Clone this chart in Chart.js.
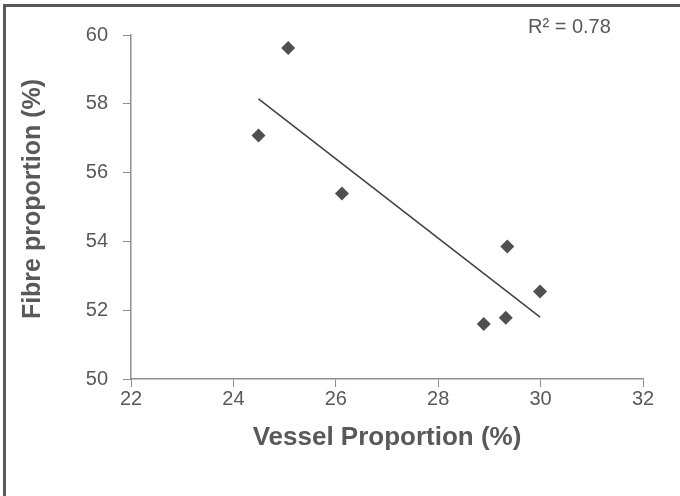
<!DOCTYPE html>
<html>
<head>
<meta charset="utf-8">
<script src="https://cdn.jsdelivr.net/npm/chart.js@4/dist/chart.umd.min.js"></script>
<style>
  html, body { margin: 0; padding: 0; background: #ffffff; }
  #wrap { position: relative; width: 680px; height: 496px; }
</style>
</head>
<body>
<div id="wrap"><canvas id="chart"></canvas></div>
<script>
// Vessel vs fibre proportion of each sample (%)
const vesselPct = [25.07, 24.49, 26.12, 29.35, 29.99, 28.89, 29.32];
const fibrePct  = [59.62, 57.08, 55.39, 53.85, 52.54, 51.60, 51.78];

// Axis ranges and tick steps
const xRange = [22, 32];
const yRange = [50, 60];
const xStep = 2;
const yStep = 2;

const xTitle = 'Vessel Proportion (%)';
const yTitle = 'Fibre proportion (%)';

// Least-squares linear trend through the samples
function linearFit(xs, ys) {
  const n = xs.length;
  const mx = xs.reduce((a, b) => a + b, 0) / n;
  const my = ys.reduce((a, b) => a + b, 0) / n;
  let sxy = 0, sxx = 0, syy = 0;
  for (let i = 0; i < n; i++) {
    sxy += (xs[i] - mx) * (ys[i] - my);
    sxx += (xs[i] - mx) ** 2;
    syy += (ys[i] - my) ** 2;
  }
  const slope = sxy / sxx;
  return { slope, intercept: my - slope * mx, r2: (sxy * sxy) / (sxx * syy) };
}

const fit = linearFit(vesselPct, fibrePct);
const xMin = Math.min(...vesselPct);
const xMax = Math.max(...vesselPct);
const trendPoints = [
  { x: xMin, y: fit.intercept + fit.slope * xMin },
  { x: xMax, y: fit.intercept + fit.slope * xMax }
];
const samplePoints = vesselPct.map((v, i) => ({ x: v, y: fibrePct[i] }));

const textColor = '#595959';
const axisColor = '#8f8f8f';
const fontFamily = '"Liberation Sans", Arial, sans-serif';

// Outer frame, vertical axis title and the R² note
const decorations = {
  id: 'decorations',
  beforeDraw(chart) {
    const ctx = chart.ctx;
    ctx.save();
    ctx.fillStyle = '#ffffff';
    ctx.fillRect(0, 0, chart.width, chart.height);
    ctx.restore();
  },
  afterDraw(chart) {
    const ctx = chart.ctx;
    ctx.save();
    ctx.strokeStyle = '#595959';
    ctx.lineWidth = 3;
    ctx.beginPath();
    ctx.moveTo(4.5, chart.height + 5);
    ctx.lineTo(4.5, 5.5);
    ctx.lineTo(chart.width + 5, 5.5);
    ctx.stroke();

    ctx.fillStyle = textColor;
    ctx.font = '20px ' + fontFamily;
    ctx.textBaseline = 'middle';
    ctx.textAlign = 'left';
    ctx.fillText('R\u00B2 = ' + fit.r2.toFixed(2), 528, 27);

    // vertical axis title, rotated
    ctx.translate(33, 199);
    ctx.rotate(-Math.PI / 2);
    ctx.textAlign = 'center';
    ctx.font = 'bold 25px ' + fontFamily;
    ctx.fillText(yTitle, 0, 0);
    ctx.restore();
  }
};

new Chart(document.getElementById('chart'), {
  type: 'scatter',
  data: {
    datasets: [
      {
        label: 'Samples',
        data: samplePoints,
        pointStyle: 'rectRot',
        pointRadius: 7,
        pointHoverRadius: 7,
        pointBackgroundColor: '#505050',
        pointBorderWidth: 0,
        borderColor: '#505050',
        order: 1
      },
      {
        type: 'line',
        label: 'Linear trend',
        data: trendPoints,
        borderColor: '#404040',
        borderWidth: 1.5,
        pointRadius: 0,
        fill: false,
        order: 2
      }
    ]
  },
  options: {
    responsive: true,
    maintainAspectRatio: false,
    animation: false,
    layout: { padding: { top: 35, right: 37, left: 0, bottom: 0 } },
    plugins: {
      legend: { display: false },
      tooltip: { enabled: false }
    },
    scales: {
      x: {
        type: 'linear',
        min: xRange[0],
        max: xRange[1],
        afterFit(scale) { scale.height = 117; },
        ticks: {
          stepSize: xStep,
          color: textColor,
          padding: 0,
          font: { family: fontFamily, size: 20 }
        },
        grid: { drawOnChartArea: false, drawTicks: true, tickLength: 8, color: axisColor, lineWidth: 1 },
        border: { color: axisColor, width: 1.5 },
        title: {
          display: true,
          text: xTitle,
          color: textColor,
          font: { family: fontFamily, size: 26, weight: 'bold', lineHeight: 1 },
          padding: { top: 0, bottom: 45 }
        }
      },
      y: {
        type: 'linear',
        min: yRange[0],
        max: yRange[1],
        afterFit(scale) { scale.width = 131; },
        ticks: {
          stepSize: yStep,
          color: textColor,
          padding: 15,
          font: { family: fontFamily, size: 20 }
        },
        grid: { drawOnChartArea: false, drawTicks: true, tickLength: 8, color: axisColor, lineWidth: 1 },
        border: { color: axisColor, width: 1.5 },
        title: { display: false }
      }
    }
  },
  plugins: [decorations]
});
</script>
</body>
</html>
